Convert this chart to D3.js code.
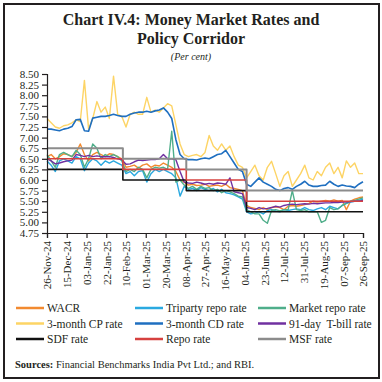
<!DOCTYPE html>
<html>
<head>
<meta charset="utf-8">
<script src="https://cdn.jsdelivr.net/npm/d3@7"></script>
<style>
  body { margin: 0; background: #fff; }
  svg { display: block; }
  text { font-family: "Liberation Serif", "DejaVu Serif", serif; fill: #231f20; }
</style>
</head>
<body>
<svg id="chart" width="382" height="382"></svg>
<script>
// observation grid: every 4 days from 26-Nov-24 to 26-Sep-25
const startDate = new Date(2024, 10, 26);
const obsDates = d3.range(77).map(i => d3.timeDay.offset(startDate, 4 * i));
const tickDates = d3.range(17).map(i => d3.timeDay.offset(startDate, 19 * i));
const yTicks = d3.range(4.75, 8.51, 0.25);

const wacr = [6.55,6.6,6.5,6.55,6.62,6.6,6.55,6.65,6.85,6.6,6.45,6.6,6.65,6.6,6.55,6.62,6.6,6.55,6.5,6.3,
  6.32,6.35,6.28,6.35,6.38,6.3,6.35,6.33,6.4,6.35,6.3,6.2,6.0,5.95,5.88,5.9,5.87,5.88,5.9,5.85,
  5.87,5.88,5.85,5.9,5.82,5.8,5.78,5.75,5.4,5.35,5.33,5.3,5.35,5.3,5.35,5.37,5.35,5.3,5.38,5.4,
  5.38,5.4,5.42,5.45,5.5,5.48,5.5,5.52,5.5,5.53,5.5,5.52,5.3,5.5,5.55,5.58,5.6];
const triparty = [6.45,6.35,6.2,6.45,6.5,6.45,6.4,6.55,6.5,6.22,6.4,6.5,6.45,6.35,6.45,6.4,6.45,6.4,6.35,6.15,
  6.2,6.1,6.2,6.22,5.95,6.15,6.25,6.2,6.25,6.2,6.15,6.05,5.62,5.85,5.78,5.8,5.75,5.82,5.78,5.75,
  5.8,5.72,5.78,5.7,5.68,5.65,5.6,5.55,5.25,5.2,5.22,5.25,5.2,5.28,5.3,5.27,5.25,5.3,5.28,5.3,
  5.32,5.3,5.35,5.3,5.28,5.32,5.35,5.3,5.38,5.35,5.32,5.4,5.45,5.48,5.5,5.52,5.55];
const marketRepo = [6.6,6.45,6.3,6.6,6.65,6.6,6.55,6.7,6.6,6.3,6.5,6.85,6.75,6.5,6.6,6.55,6.6,6.55,6.45,6.2,
  6.25,6.2,6.3,6.25,6.05,6.25,6.3,6.28,6.3,6.25,7.15,5.95,6.0,5.88,5.8,5.85,5.78,5.85,5.8,5.82,
  5.75,5.78,5.7,5.75,5.72,5.68,5.62,5.6,5.3,5.25,5.2,5.2,5.05,4.98,5.28,5.3,5.27,5.3,5.3,5.75,
  5.3,5.28,5.3,5.25,5.25,5.25,5.0,5.05,5.35,5.3,5.32,5.4,5.45,5.5,5.52,5.55,5.58];
const cpRate = [7.45,7.35,7.25,7.22,7.28,7.3,7.35,7.42,7.38,8.35,7.2,7.45,7.85,7.6,7.72,7.45,8.45,7.55,7.5,7.25,
  7.55,7.6,7.55,7.55,7.95,7.6,7.65,7.6,7.7,7.8,7.75,7.3,6.85,6.6,6.55,6.58,6.6,6.55,6.65,7.05,
  6.8,6.7,6.85,6.7,6.8,6.55,6.35,6.3,6.05,6.2,6.35,6.1,6.0,6.3,6.44,6.15,5.85,6.1,6.2,5.85,
  6.0,6.15,6.35,6.05,6.0,6.2,6.1,6.3,6.4,6.15,6.3,6.05,6.45,6.3,6.4,6.15,6.15];
const cdRate = [7.2,7.2,7.18,7.16,7.2,7.22,7.26,7.42,7.43,7.16,7.15,7.46,7.48,7.5,7.5,7.52,7.55,7.52,7.5,7.5,
  7.55,7.58,7.6,7.6,7.62,7.6,7.63,7.65,7.7,7.6,7.45,6.95,6.6,6.5,6.48,6.48,6.47,6.5,6.52,6.5,
  6.55,6.6,6.62,6.7,6.55,6.4,6.25,6.2,5.9,5.85,5.95,6.05,5.95,5.9,5.85,5.78,5.75,5.8,5.82,5.78,
  5.85,5.9,5.97,5.88,5.85,5.85,5.87,5.88,5.97,5.9,5.85,5.88,5.86,5.85,5.82,5.9,5.96];
const tbill = [6.5,6.45,6.38,6.4,6.43,6.45,6.47,6.6,6.58,6.55,6.58,6.55,6.57,6.55,6.55,6.55,6.53,6.5,6.48,6.37,
  6.38,6.43,6.47,6.46,6.47,6.48,6.48,6.5,6.6,6.5,6.5,6.48,6.2,5.95,5.93,5.92,5.95,5.93,5.9,5.92,
  5.9,5.93,5.92,5.9,6.05,5.72,5.7,5.68,5.35,5.33,5.3,5.35,5.32,5.33,5.35,5.38,5.36,5.4,5.42,5.43,
  5.42,5.43,5.44,5.43,5.45,5.44,5.45,5.46,5.46,5.47,5.47,5.48,5.48,5.49,5.5,5.5,5.52];

// policy corridor: dates of change
const policyDates = [new Date(2024, 10, 26), new Date(2025, 1, 7), new Date(2025, 3, 9), new Date(2025, 5, 6), new Date(2025, 8, 26)];
const sdfRate = [6.25, 6.0, 5.75, 5.25, 5.25];
const repoRate = [6.5, 6.25, 6.0, 5.5, 5.5];
const msfRate = [6.75, 6.5, 6.25, 5.75, 5.75];

const series = [
  { name: "WACR", values: wacr, dates: obsDates, color: "#f28a30", width: 1.4 },
  { name: "Triparty repo rate", values: triparty, dates: obsDates, color: "#2aa9e0", width: 1.4 },
  { name: "Market repo rate", values: marketRepo, dates: obsDates, color: "#4fae8a", width: 1.4 },
  { name: "3-month CP rate", values: cpRate, dates: obsDates, color: "#fdd465", width: 1.4 },
  { name: "3-month CD rate", values: cdRate, dates: obsDates, color: "#1f6fc0", width: 1.6 },
  { name: "91-day  T-bill rate", values: tbill, dates: obsDates, color: "#7030a0", width: 1.4 },
  { name: "SDF rate", values: sdfRate, dates: policyDates, color: "#111111", width: 1.6, step: true },
  { name: "Repo rate", values: repoRate, dates: policyDates, color: "#d6413f", width: 1.6, step: true },
  { name: "MSF rate", values: msfRate, dates: policyDates, color: "#8c8c8c", width: 2, step: true }
];

const svg = d3.select("#chart");
const margin = { top: 74, right: 19, bottom: 149, left: 47 };
const W = 382, H = 382;

// frame
svg.append("rect")
  .attr("x", 4).attr("y", 4).attr("width", 375).attr("height", 374)
  .attr("fill", "none").attr("stroke", "#231f20").attr("stroke-width", 2);

// titles
svg.append("text").attr("x", 191).attr("y", 25).attr("text-anchor", "middle")
  .attr("font-size", 16).attr("font-weight", "bold").text("Chart IV.4: Money Market Rates and");
svg.append("text").attr("x", 191).attr("y", 43.5).attr("text-anchor", "middle")
  .attr("font-size", 16).attr("font-weight", "bold").text("Policy Corridor");
svg.append("text").attr("x", 191).attr("y", 60).attr("text-anchor", "middle")
  .attr("font-size", 10).attr("font-style", "italic").text("(Per cent)");

const x = d3.scaleTime()
  .domain([startDate, tickDates[tickDates.length - 1]])
  .range([margin.left, W - margin.right]);
const y = d3.scaleLinear()
  .domain([4.75, 8.5])
  .range([H - margin.bottom, margin.top]);

const plot = svg.append("g");

const line = d3.line()
  .x((d, i) => x(d.date))
  .y(d => y(d.value));

series.forEach(s => {
  const pts = s.values.map((v, i) => ({ date: s.dates[i], value: v }));
  plot.append("path")
    .datum(pts)
    .attr("fill", "none")
    .attr("stroke", s.color)
    .attr("stroke-width", s.width)
    .attr("stroke-linejoin", "round")
    .attr("d", line.curve(s.step ? d3.curveStepAfter : d3.curveLinear));
});

// axes
const yAxis = svg.append("g")
  .attr("transform", `translate(${margin.left},0)`)
  .call(d3.axisLeft(y).tickValues(yTicks).tickFormat(d3.format(".2f")).tickSize(5).tickPadding(3));
yAxis.selectAll("text").attr("font-size", 11);

const xAxis = svg.append("g")
  .attr("transform", `translate(0,${H - margin.bottom})`)
  .call(d3.axisBottom(x).tickValues(tickDates).tickFormat(d3.timeFormat("%d-%b-%y")).tickSize(5));
xAxis.selectAll("text")
  .attr("font-size", 11)
  .attr("text-anchor", "end")
  .attr("transform", "rotate(-90)")
  .attr("x", -8).attr("y", 0).attr("dy", "0.35em");

svg.selectAll(".domain, .tick line").attr("stroke", "#231f20").attr("stroke-width", 1.2);
svg.selectAll(".tick text").attr("fill", "#231f20");

// legend
const legendCols = [16, 135, 258];
const legendRows = [308, 323.5, 339];
const legend = svg.append("g");
series.forEach((s, i) => {
  const lx = legendCols[i % 3], ly = legendRows[Math.floor(i / 3)];
  legend.append("line")
    .attr("x1", lx).attr("x2", lx + 28).attr("y1", ly).attr("y2", ly)
    .attr("stroke", s.color).attr("stroke-width", 2.5);
  legend.append("text")
    .attr("x", lx + 31).attr("y", ly).attr("dy", "0.35em")
    .attr("font-size", 11.5).attr("xml:space", "preserve")
    .style("white-space", "pre")
    .text(s.name);
});

// source note
const src = svg.append("text").attr("x", 15).attr("y", 368).attr("font-size", 10.5);
src.append("tspan").attr("font-weight", "bold").text("Sources:");
src.append("tspan").text(" Financial Benchmarks India Pvt Ltd.; and RBI.");
</script>
</body>
</html>
